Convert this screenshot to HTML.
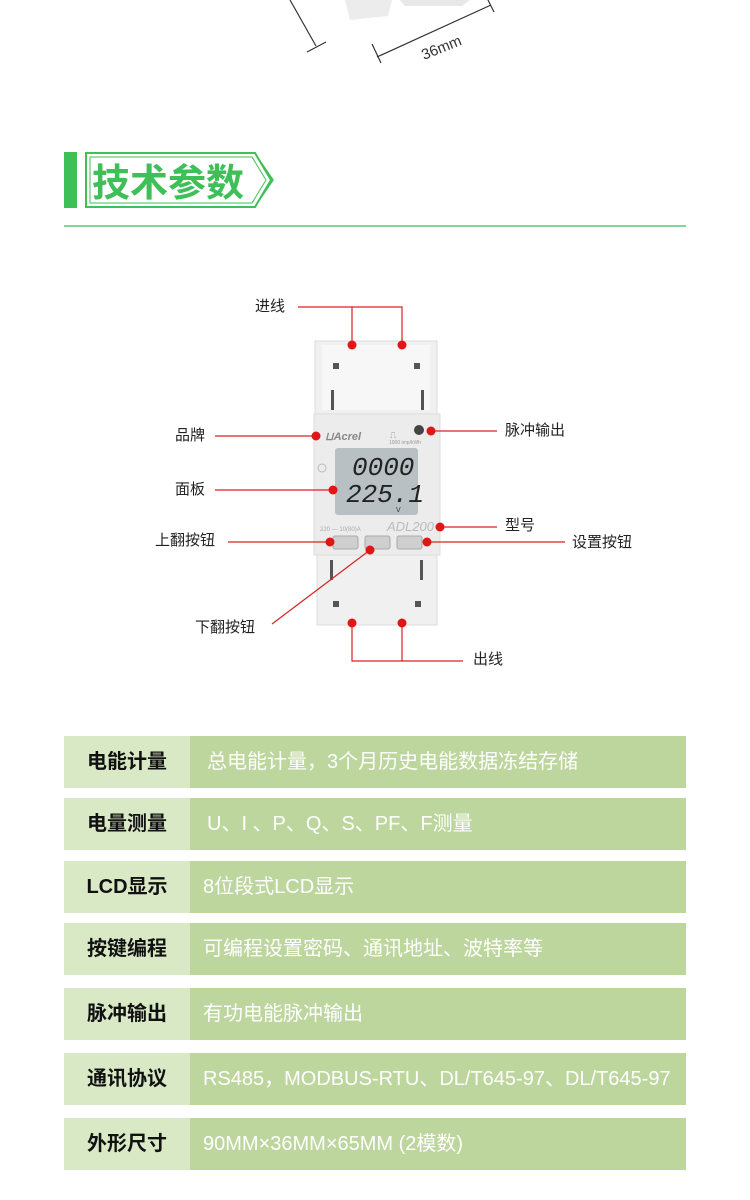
<!DOCTYPE html>
<html><head><meta charset="utf-8"><style>
body{margin:0;width:750px;height:1200px;background:#fff;position:relative;overflow:hidden;font-family:"Liberation Sans","Noto Sans CJK SC",sans-serif}
.a{position:absolute}
.row{position:absolute;left:64px;width:622px;height:52px}
.row .l{position:absolute;left:0;top:0;width:126px;height:52px;background:#d9e9c6;font-weight:bold;font-size:20px;line-height:52px;text-align:center;color:#111}
.row .r{position:absolute;left:126px;top:0;width:496px;height:52px;background:#bdd69e;color:#fff;font-size:20px;line-height:52px;padding-left:13px;box-sizing:border-box;white-space:nowrap;overflow:hidden}
.lb{position:absolute;font-size:15px;color:#222;line-height:18px}
</style></head><body>
<svg class="a" style="left:0;top:0" width="750" height="700">
<path d="M345 0 L392 0 L388 16 L350 20 Z" fill="#ececec"/>
<path d="M400 0 L470 0 L462 6 L405 6 Z" fill="#e8e8e8"/>
<g stroke="#333" stroke-width="1.2" fill="none">
<line x1="290" y1="0" x2="316" y2="46"/><line x1="307" y1="52" x2="326" y2="42"/>
<line x1="377" y1="57" x2="491" y2="5"/><line x1="372" y1="44" x2="381" y2="63"/><line x1="487" y1="-2" x2="494" y2="12"/>
</g>
<text x="424" y="60" font-size="15" fill="#333" transform="rotate(-22 424 60)" font-family="Liberation Sans">36mm</text>
<rect x="64" y="152" width="13" height="56" fill="#3fbf57"/>
<path d="M86 153 H255 L271 180 L255 207 H86 Z" fill="none" stroke="#3fbf57" stroke-width="2"/>
<path d="M90 157 H252 L266 180 L252 203 H90 Z" fill="none" stroke="#3fbf57" stroke-width="1"/>
<path d="M258 158 L273 180 L258 202" fill="none" stroke="#3fbf57" stroke-width="1.5"/>
<text x="92" y="196" font-size="38" font-weight="bold" fill="#3fbf57" font-family="Noto Sans CJK SC,sans-serif">技术参数</text>
<line x1="64" y1="226" x2="686" y2="226" stroke="#3fbf57" stroke-width="1.2"/>
<rect x="315" y="341" width="122" height="73" fill="#f0f0f0" stroke="#ddd"/>
<rect x="322" y="345" width="108" height="65" fill="#f7f7f7"/>
<rect x="333" y="363" width="6" height="6" fill="#555"/><rect x="414" y="363" width="6" height="6" fill="#555"/>
<rect x="331" y="390" width="3" height="20" fill="#555"/><rect x="421" y="390" width="3" height="20" fill="#555"/>
<rect x="314" y="414" width="126" height="141" fill="#ececec" stroke="#ddd"/>
<rect x="335" y="448" width="83" height="67" rx="3" fill="#b8c0c4"/>
<text x="352" y="475" font-size="26" font-style="italic" fill="#222" font-family="Liberation Mono">0000</text>
<text x="346" y="502" font-size="26" font-style="italic" fill="#222" font-family="Liberation Mono">225.1</text>
<text x="396" y="512" font-size="7" fill="#333">V</text>
<text x="325" y="440" font-size="11" font-weight="bold" font-style="italic" fill="#888">⊔Acrel</text>
<text x="390" y="438" font-size="9" fill="#999">⎍</text>
<text x="389" y="444" font-size="5" fill="#999">1000 imp/kWh</text>
<circle cx="419" cy="430" r="5" fill="#444"/>
<text x="320" y="531" font-size="6" fill="#aaa">220 — 10(80)A</text>
<text x="387" y="531" font-size="13" font-style="italic" fill="#bbb">ADL200</text>
<circle cx="322" cy="468" r="4" fill="none" stroke="#bbb"/>
<rect x="333" y="536" width="25" height="13" rx="2" fill="#cfcfcf" stroke="#aaa"/>
<rect x="365" y="536" width="25" height="13" rx="2" fill="#cfcfcf" stroke="#aaa"/>
<rect x="397" y="536" width="25" height="13" rx="2" fill="#cfcfcf" stroke="#aaa"/>
<rect x="317" y="555" width="120" height="70" fill="#f0f0f0" stroke="#ddd"/>
<rect x="330" y="560" width="3" height="20" fill="#555"/><rect x="420" y="560" width="3" height="20" fill="#555"/>
<rect x="333" y="601" width="6" height="6" fill="#555"/><rect x="415" y="601" width="6" height="6" fill="#555"/>
<g stroke="#d22" stroke-width="1.2" fill="none">
<polyline points="298,307 402,307 402,345"/><line x1="352" y1="307" x2="352" y2="345"/>
<line x1="215" y1="436" x2="316" y2="436"/>
<line x1="431" y1="431" x2="497" y2="431"/>
<line x1="215" y1="490" x2="333" y2="490"/>
<line x1="440" y1="527" x2="497" y2="527"/>
<line x1="228" y1="542" x2="330" y2="542"/>
<line x1="427" y1="542" x2="565" y2="542"/>
<line x1="272" y1="624" x2="370" y2="550"/>
<polyline points="352,623 352,661 463,661"/><line x1="402" y1="623" x2="402" y2="661"/>
</g>
<g fill="#e01515">
<circle cx="352" cy="345" r="4.5"/><circle cx="402" cy="345" r="4.5"/>
<circle cx="316" cy="436" r="4.5"/><circle cx="431" cy="431" r="4.5"/>
<circle cx="333" cy="490" r="4.5"/><circle cx="440" cy="527" r="4.5"/>
<circle cx="330" cy="542" r="4.5"/><circle cx="427" cy="542" r="4.5"/>
<circle cx="370" cy="550" r="4.5"/>
<circle cx="352" cy="623" r="4.5"/><circle cx="402" cy="623" r="4.5"/>
</g>
</svg>
<div class="lb" style="left:255px;top:298px">进线</div>
<div class="lb" style="left:175px;top:427px">品牌</div>
<div class="lb" style="left:505px;top:422px">脉冲输出</div>
<div class="lb" style="left:175px;top:481px">面板</div>
<div class="lb" style="left:505px;top:517px">型号</div>
<div class="lb" style="left:155px;top:532px">上翻按钮</div>
<div class="lb" style="left:572px;top:534px">设置按钮</div>
<div class="lb" style="left:195px;top:619px">下翻按钮</div>
<div class="lb" style="left:473px;top:651px">出线</div>

<div class="row" style="top:736px"><div class="l">电能计量</div><div class="r" style="padding-left:17px">总电能计量，3个月历史电能数据冻结存储</div></div>
<div class="row" style="top:798px"><div class="l">电量测量</div><div class="r" style="padding-left:17px">U、I 、P、Q、S、PF、F测量</div></div>
<div class="row" style="top:861px"><div class="l">LCD显示</div><div class="r">8位段式LCD显示</div></div>
<div class="row" style="top:923px"><div class="l">按键编程</div><div class="r">可编程设置密码、通讯地址、波特率等</div></div>
<div class="row" style="top:988px"><div class="l">脉冲输出</div><div class="r">有功电能脉冲输出</div></div>
<div class="row" style="top:1053px"><div class="l">通讯协议</div><div class="r">RS485，MODBUS-RTU、DL/T645-97、DL/T645-97</div></div>
<div class="row" style="top:1118px"><div class="l">外形尺寸</div><div class="r">90MM×36MM×65MM (2模数)</div></div>
</body></html>
